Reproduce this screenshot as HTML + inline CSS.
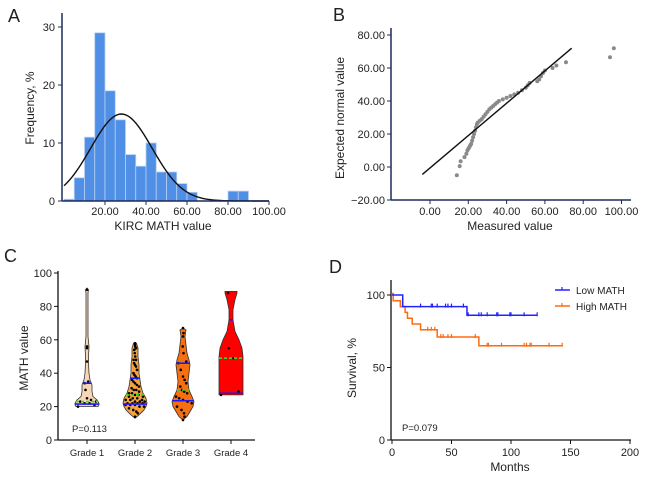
<!DOCTYPE html>
<html><head><meta charset="utf-8"><style>
html,body{margin:0;padding:0;background:#fff;}
svg{display:block;font-family:"Liberation Sans",Arial,sans-serif;}
</style></head><body>
<svg id="fig" width="654" height="477" viewBox="0 0 654 477" xmlns="http://www.w3.org/2000/svg"></svg>
<script>
// ---- Panel A data
const histBinStart=[0,5,10,15,20,25,30,35,40,45,50,55,60,65,70,75,80,85];
const histFreq=[0.3,4,11,29,19,14,8,6,10,5,5,3,1.5,0,0,0,1.7,1.7];
const histXTicks=[20,40,60,80,100];
const histYTicks=[0,10,20,30];
const normMean=28, normSd=15, normPeak=15;
// ---- Panel B data
const qqMeasured=[14,15.5,16,18,19,19.5,20,20.5,21,21.5,22,22.5,23,23.5,24,24.5,25,26,27,28,29,30,31,32,33,34,35,36,38,40,42,44,46,48,50,51,52,56,57,58,59,60,64,66,71,94,96];
const qqExpected=[-5,0.5,3.5,6,8,10,11,12,13,14,16,18,20,22,24,26,27,28,29,30.5,32,33.5,35,36,37,38,39,40,41,42,43,44,45,46.5,48,49.5,51,52,53,55,57,58.5,60,61.5,63.5,66.5,72];
const qqLine=[[-4,-4.5],[74,72]];
const qqXTicks=[0,20,40,60,80,100];
const qqYTicks=[-20,0,20,40,60,80];
// ---- Panel C data
const grades=["Grade 1","Grade 2","Grade 3","Grade 4"];
const violinFill=["#f7d6b6","#f7a241","#f66f10","#ff0000"];
const violinDensity=[
 [[20,11],[21,12],[22,12],[24,10],[26,6],[29,5],[33,5],[36,3],[40,2],[46,1.5],[50,1.5],[56,2],[62,1],[70,1],[80,1],[88,1],[90,1.5],[91,0]],
 [[13,0],[15,4],[18,9],[20,11],[22,12],[25,11],[28,8],[32,6],[36,5],[40,4],[45,4],[50,3],[55,3],[58,1.5]],
 [[12,0],[14,4],[17,7],[20,10],[23,11],[26,9],[30,6],[35,5],[40,6],[45,7],[48,6],[52,4],[57,3],[62,2],[66,3],[67,0]],
 [[27,12],[30,12],[40,12],[50,12],[55,11],[60,8],[65,4],[72,2],[78,2],[84,4],[88,6],[89,6]]
];
const violinMedian=[23,27,30,49];
const violinQ1=[21.5,21.5,23.5,28];
const violinQ3=[34,37,46,72];
const violinPoints=[
 [20,21,22,22,23,23,24,25,30,34,35,47,55,56,90],
 [14,16,17,18,19,20,20,21,21,21,22,22,22,22,23,23,23,24,24,24,25,25,26,26,27,27,28,28,29,30,30,31,32,33,34,35,36,37,38,39,40,42,44,45,46,48,48,50,52,54,55,56,57,58],
 [12,14,16,18,20,22,23,24,25,26,28,29,30,32,34,36,38,42,46,47,52,56,62,64,67],
 [27,29,49,55,88]
];
const violinYTicks=[0,20,40,60,80,100];
// ---- Panel D data
const lowTimes=[0,9,63,122];
const lowSurv=[100,92,86,86];
const lowCensor=[24,33,34,38,45,47,50,60,64,73,75,80,88,89,99,100,111,122];
const highTimes=[0,1,7,11,13,17,24,38,73,143];
const highSurv=[101,96,92,88,84,80,76,71,65,65];
const highCensor=[30,33,36,41,43,47,50,70,80,81,92,111,113,116,117,132,143];
const kmXTicks=[0,50,100,150,200];
const kmYTicks=[0,50,100];

const NS="http://www.w3.org/2000/svg";
const svg=document.getElementById('fig');
function mk(tag,attrs,parent,name){const e=document.createElementNS(NS,tag);for(const k in attrs)e.setAttribute(k,attrs[k]);(parent||svg).appendChild(e);


return e;}
function txt(s,x,y,size,anchor,parent,name,extra){const t=mk('text',Object.assign({x:x,y:y,'font-size':size,'text-anchor':anchor||'middle',fill:'#222'},extra||{}),parent,name);t.textContent=s;return t;}

// ===== Panel A
(function(){
 const g=mk('g',{},svg,'panel-a');
 const X=v=>64+v*2.05, Y=v=>201-v*5.8;
 txt('A',8,22,18,'start',g,'panel-label-a');
 histBinStart.forEach((b,i)=>{const h=histFreq[i]; if(h<=0)return;
  const r=mk('rect',{x:X(b),y:Y(h),width:X(b+5)-X(b),height:Y(0)-Y(h),fill:'#4f8fe6',stroke:'#b8d0f2','stroke-width':0.8},g,'hist-bar');});
 let d='';for(let v=0;v<=100;v+=1){const f=normPeak*Math.exp(-Math.pow(v-normMean,2)/(2*normSd*normSd));d+=(v?'L':'M')+X(v)+','+Y(f);}
 mk('path',{d:d,fill:'none',stroke:'#111','stroke-width':1.4},g,'normal-curve');
 mk('line',{x1:62,y1:13,x2:62,y2:201,stroke:'#1c2c5c','stroke-width':1.5},g,'y-axis');
 mk('line',{x1:62,y1:201,x2:269,y2:201,stroke:'#1c2c5c','stroke-width':1.5},g,'x-axis');
 histYTicks.forEach(v=>{mk('line',{x1:58,x2:62,y1:Y(v),y2:Y(v),stroke:'#1c2c5c'},g,'y-tick');txt(String(v),55,Y(v)+4,11,'end',g,'y-tick-label');});
 histXTicks.forEach(v=>{mk('line',{x1:X(v),x2:X(v),y1:201,y2:205,stroke:'#1c2c5c'},g,'x-tick');txt(v.toFixed(2),X(v),215,11,'middle',g,'x-tick-label');});
 txt('KIRC MATH value',163,230,12,'middle',g,'x-axis-title');
 txt('Frequency, %',0,0,12,'middle',g,'y-axis-title',{transform:'translate(34,108) rotate(-90)'});
})();

// ===== Panel B
(function(){
 const g=mk('g',{},svg,'panel-b');
 const X=v=>430+v*1.915, Y=v=>167-v*1.65;
 txt('B',333,21,18,'start',g,'panel-label-b');
 qqMeasured.forEach((m,i)=>{mk('circle',{cx:X(m),cy:Y(qqExpected[i]),r:2,fill:'#8a8a8a'},g,'qq-point');});
 mk('line',{x1:X(qqLine[0][0]),y1:Y(qqLine[0][1]),x2:X(qqLine[1][0]),y2:Y(qqLine[1][1]),stroke:'#111','stroke-width':1.4},g,'reference-line');
 mk('line',{x1:391,y1:28,x2:391,y2:200,stroke:'#1c2c5c','stroke-width':1.5},g,'y-axis');
 mk('line',{x1:391,y1:200,x2:631,y2:200,stroke:'#1c2c5c','stroke-width':1.5},g,'x-axis');
 qqYTicks.forEach(v=>{mk('line',{x1:387,x2:391,y1:Y(v),y2:Y(v),stroke:'#1c2c5c'},g,'y-tick');txt((v<0?'\u2212'+Math.abs(v).toFixed(2):v.toFixed(2)),385,Y(v)+4,11,'end',g,'y-tick-label');});
 qqXTicks.forEach(v=>{mk('line',{x1:X(v),x2:X(v),y1:200,y2:204,stroke:'#1c2c5c'},g,'x-tick');txt(v.toFixed(2),X(v),215,11,'middle',g,'x-tick-label');});
 txt('Measured value',510,230,12,'middle',g,'x-axis-title');
 txt('Expected normal value',0,0,12,'middle',g,'y-axis-title',{transform:'translate(344,118) rotate(-90)'});
})();

// ===== Panel C
(function(){
 const g=mk('g',{},svg,'panel-c');
 const Y=v=>440-v*1.67; const cx=[87,135,183,231];
 txt('C',4,262,18,'start',g,'panel-label-c');
 violinDensity.forEach((dens,i)=>{
  let d='';dens.forEach((p,j)=>{d+=(j?'L':'M')+(cx[i]+p[1])+','+Y(p[0]);});
  for(let j=dens.length-1;j>=0;j--){d+='L'+(cx[i]-dens[j][1])+','+Y(dens[j][0]);}
  mk('path',{d:d+'Z',fill:violinFill[i],stroke:'#333','stroke-width':0.8},g,'violin-'+(i+1));
  function hw(v){let w=0;for(let j=0;j<dens.length-1;j++){if(v>=dens[j][0]&&v<=dens[j+1][0]){const t=(v-dens[j][0])/(dens[j+1][0]-dens[j][0]||1);w=dens[j][1]+t*(dens[j+1][1]-dens[j][1]);}}return w;}
  violinPoints[i].forEach((v,k)=>{const w=Math.max(0,hw(v)-2);const off=((k*7)%9-4)/4*w;
   mk('circle',{cx:cx[i]+off,cy:Y(v),r:1.3,fill:'#000'},g,'data-point');});
  [violinQ1[i],violinQ3[i]].forEach(q=>{const w=hw(q);mk('line',{x1:cx[i]-w,x2:cx[i]+w,y1:Y(q),y2:Y(q),stroke:'#1a1aff','stroke-width':1.6},g,'quartile-line');});
  const wm=hw(violinMedian[i]);
  mk('line',{x1:cx[i]-wm,x2:cx[i]+wm,y1:Y(violinMedian[i]),y2:Y(violinMedian[i]),stroke:'#33dd22','stroke-width':1.6,'stroke-dasharray':'3,2'},g,'median-line');
 });
 mk('line',{x1:58,y1:271,x2:58,y2:440,stroke:'#111','stroke-width':1.3},g,'y-axis');
 mk('line',{x1:58,y1:440,x2:255,y2:440,stroke:'#111','stroke-width':1.3},g,'x-axis');
 violinYTicks.forEach(v=>{mk('line',{x1:54,x2:58,y1:Y(v),y2:Y(v),stroke:'#111'},g,'y-tick');txt(String(v),52,Y(v)+4,11,'end',g,'y-tick-label');});
 grades.forEach((s,i)=>{mk('line',{x1:cx[i],x2:cx[i],y1:440,y2:444,stroke:'#111'},g,'x-tick');txt(s,cx[i],456,9.5,'middle',g,'x-tick-label');});
 txt('P=0.113',72,432,9.5,'start',g,'p-value');
 txt('MATH value',0,0,12,'middle',g,'y-axis-title',{transform:'translate(28,358) rotate(-90)'});
})();

// ===== Panel D
(function(){
 const g=mk('g',{},svg,'panel-d');
 const X=v=>392+v*1.19, Y=v=>440-v*1.45;
 txt('D',329,273,18,'start',g,'panel-label-d');
 function km(times,surv,cens,color,name){
  let d='M'+X(times[0])+','+Y(surv[0]);
  for(let i=1;i<times.length;i++){d+='H'+X(times[i])+'V'+Y(surv[i]);}
  mk('path',{d:d,fill:'none',stroke:color,'stroke-width':1.5},g,name+'-curve');
  cens.forEach(t=>{let s=surv[0];for(let i=0;i<times.length;i++){if(times[i]<=t)s=surv[i];}
   mk('line',{x1:X(t),x2:X(t),y1:Y(s)-3,y2:Y(s)+1,stroke:color,'stroke-width':1.2},g,name+'-censor');});
 }
 km(highTimes,highSurv,highCensor,'#ff6a10','high-math');
 km(lowTimes,lowSurv,lowCensor,'#2222ff','low-math');
 mk('line',{x1:391,y1:280,x2:391,y2:440,stroke:'#111','stroke-width':1.3},g,'y-axis');
 mk('line',{x1:391,y1:440,x2:631,y2:440,stroke:'#111','stroke-width':1.3},g,'x-axis');
 kmYTicks.forEach(v=>{mk('line',{x1:387,x2:391,y1:Y(v),y2:Y(v),stroke:'#111'},g,'y-tick');txt(String(v),385,Y(v)+4,11,'end',g,'y-tick-label');});
 kmXTicks.forEach(v=>{mk('line',{x1:X(v),x2:X(v),y1:440,y2:444,stroke:'#111'},g,'x-tick');txt(String(v),X(v),456,11,'middle',g,'x-tick-label');});
 txt('Months',510,471,12,'middle',g,'x-axis-title');
 txt('Survival, %',0,0,12,'middle',g,'y-axis-title',{transform:'translate(356,368) rotate(-90)'});
 txt('P=0.079',402,431,9.5,'start',g,'p-value');
 const lg=mk('g',{},g,'legend');
 mk('line',{x1:555,x2:570,y1:290,y2:290,stroke:'#2222ff','stroke-width':1.5},lg,'legend-swatch-low');
 mk('line',{x1:562,x2:562,y1:287,y2:290,stroke:'#2222ff','stroke-width':1.2},lg,'legend-tick-low');
 txt('Low MATH',576,294,10,'start',lg,'legend-label-low');
 mk('line',{x1:555,x2:570,y1:306,y2:306,stroke:'#ff6a10','stroke-width':1.5},lg,'legend-swatch-high');
 mk('line',{x1:562,x2:562,y1:303,y2:306,stroke:'#ff6a10','stroke-width':1.2},lg,'legend-tick-high');
 txt('High MATH',576,310,10,'start',lg,'legend-label-high');
})();
</script>
</body></html>
